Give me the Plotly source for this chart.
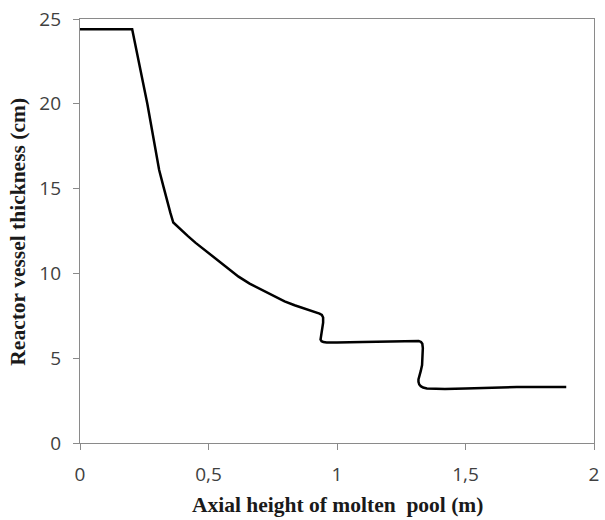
import plotly.graph_objects as go

height_m = [0, 0.203, 0.262, 0.308, 0.325, 0.339, 0.352, 0.363, 0.39, 0.42, 0.45,
            0.48, 0.51, 0.539, 0.578, 0.617, 0.66, 0.706, 0.75, 0.796, 0.835, 0.874, 0.9,
            0.92, 0.932, 0.941, 0.946, 0.946, 0.943, 0.938, 0.935, 0.936, 0.94, 0.947,
            0.96, 1.0, 1.1, 1.2, 1.26, 1.304, 1.318, 1.327, 1.332, 1.334, 1.333, 1.331,
            1.326, 1.32, 1.317, 1.317, 1.32, 1.326, 1.335, 1.35, 1.375, 1.42, 1.5,
            1.6, 1.7, 1.892]
thickness_cm = [24.4, 24.4, 20.0, 16.1, 15.1, 14.2, 13.55, 13.0, 12.6, 12.2, 11.8,
                11.45, 11.08, 10.73, 10.25, 9.81, 9.4, 9.04, 8.68, 8.35, 8.12, 7.93, 7.8,
                7.7, 7.63, 7.55, 7.4, 7.1, 6.8, 6.5, 6.25, 6.1, 6.0, 5.95,
                5.93, 5.92, 5.95, 5.98, 6.0, 6.02, 6.01, 5.96, 5.85, 5.6, 5.0, 4.6,
                4.25, 3.95, 3.75, 3.6, 3.45, 3.35, 3.27, 3.22, 3.19, 3.18, 3.22,
                3.28, 3.3, 3.3]

x_ticks = [0, 0.5, 1, 1.5, 2]
y_ticks = [0, 5, 10, 15, 20, 25]

fig = go.Figure(go.Scatter(
    x=height_m, y=thickness_cm, mode="lines",
    line=dict(color="black", width=2.5, shape="linear"),
    showlegend=False, hoverinfo="skip"))

axis_common = dict(
    showgrid=False, zeroline=False, showline=True, linecolor="#8a8a8a", linewidth=1.3,
    mirror=True, ticks="outside", ticklen=6, tickcolor="#8a8a8a", tickwidth=1.3,
    tickfont=dict(family="Open Sans, Liberation Sans, sans-serif", size=19, color="#404040"),
)

fig.update_xaxes(range=[0, 2], tickvals=x_ticks, ticklabelstandoff=8, **axis_common)
fig.update_yaxes(range=[0, 25], tickvals=y_ticks, ticklabelstandoff=8, **axis_common)

title_font = dict(family="Liberation Serif, Times New Roman, serif", size=21.5, color="#1a1a1a")
fig.add_annotation(text="<b>Axial height of molten  pool (m)</b>", xref="paper", yref="paper",
                   x=0.5, y=-0.147, xanchor="center", yanchor="middle", showarrow=False,
                   font=title_font)
fig.add_annotation(text="<b>Reactor vessel thickness (cm)</b>", xref="paper", yref="paper",
                   x=-0.121, y=0.498, xanchor="center", yanchor="middle", textangle=-90,
                   showarrow=False, font=title_font)

fig.update_layout(
    width=605, height=520, separators=", ",
    margin=dict(l=80, r=6, t=15, b=77),
    plot_bgcolor="white", paper_bgcolor="white",
)

fig.write_html("out.html")
